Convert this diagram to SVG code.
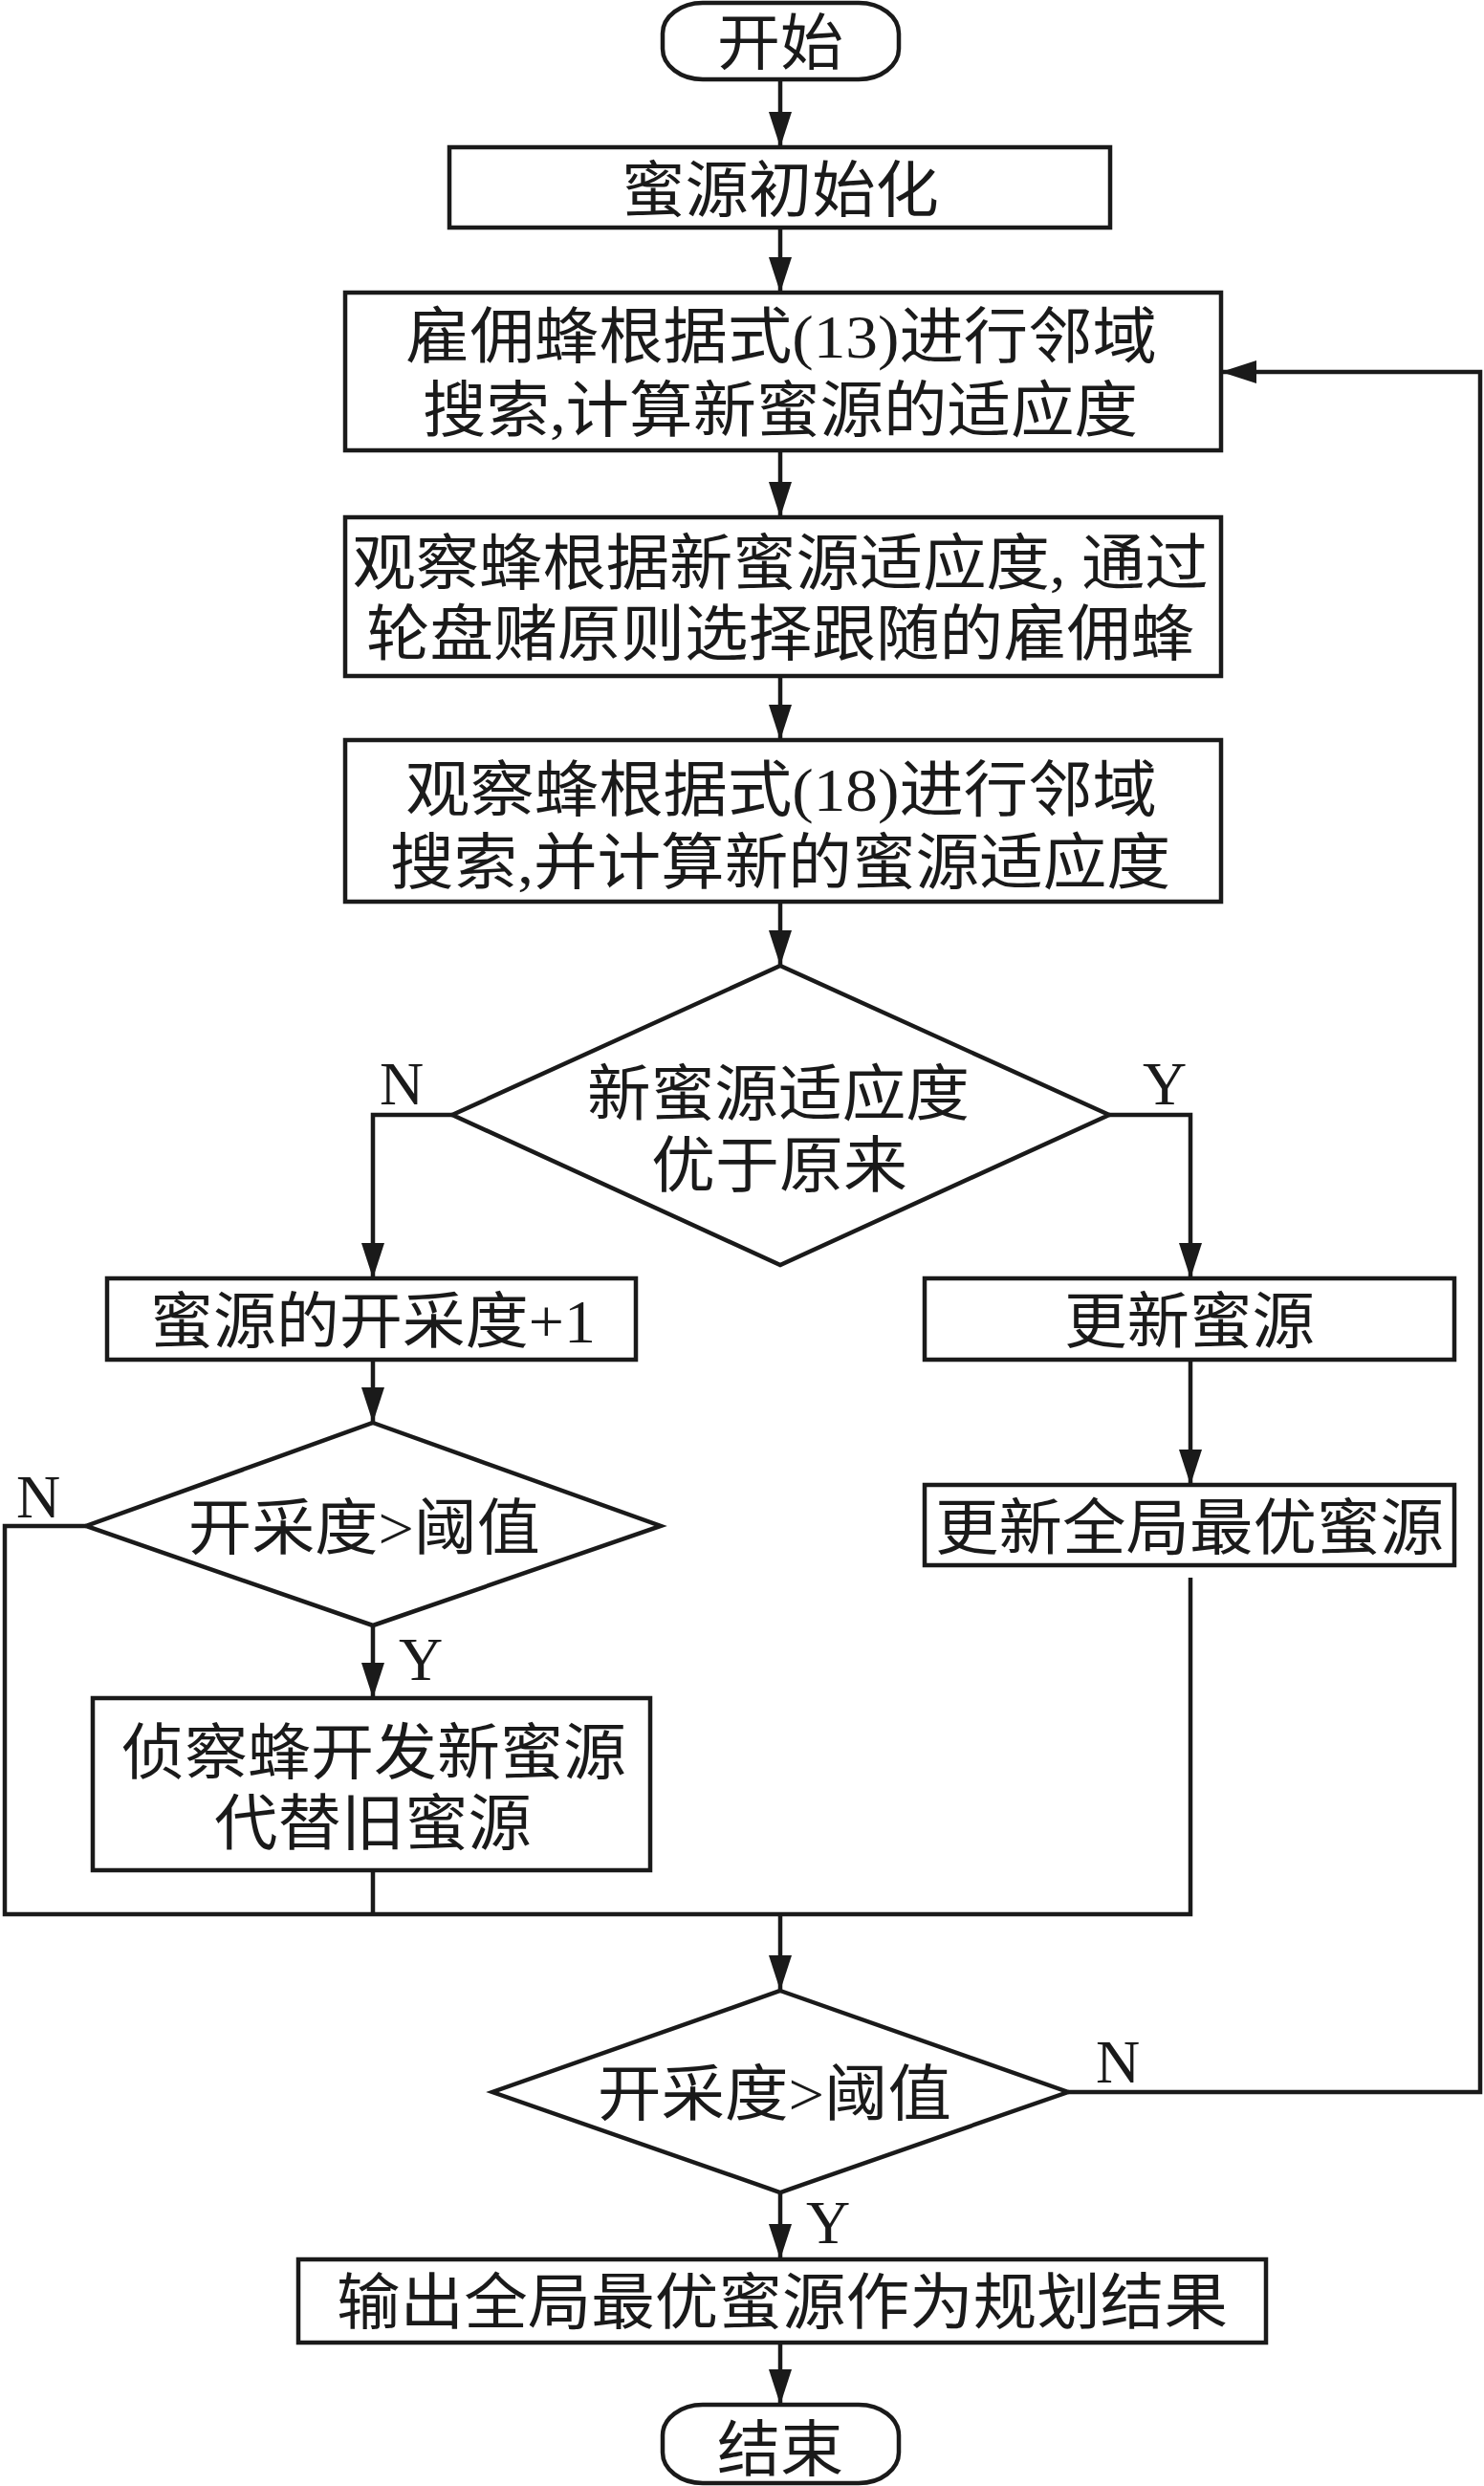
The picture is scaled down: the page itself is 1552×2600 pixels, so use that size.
<svg xmlns="http://www.w3.org/2000/svg" width="1552" height="2600" viewBox="0 0 1552 2600">
<style>
.s{fill:#fff;stroke:#1a1a1a;stroke-width:4.5}
.t{font-family:"Liberation Serif","Noto Sans CJK SC",serif;font-size:64px;fill:#1a1a1a;text-anchor:middle}
.l{font-family:"Liberation Serif",serif;font-size:64px;fill:#1a1a1a;text-anchor:middle}
.c{fill:none;stroke:#1a1a1a;stroke-width:4.5}
</style>
<defs>
<marker id="ah" markerUnits="userSpaceOnUse" markerWidth="40" markerHeight="24" refX="37" refY="12" orient="auto">
<path d="M0,0 L37,12 L0,24 z" fill="#1a1a1a"/>
</marker>
</defs>
<rect width="1552" height="2600" fill="#fff"/>
<g id="connectors">
<path class="c" d="M816,83 V154" marker-end="url(#ah)"/>
<path class="c" d="M816,238 V306" marker-end="url(#ah)"/>
<path class="c" d="M816,471 V541" marker-end="url(#ah)"/>
<path class="c" d="M816,707 V774" marker-end="url(#ah)"/>
<path class="c" d="M816,943 V1010" marker-end="url(#ah)"/>
<path class="c" d="M473,1166 H390 V1337" marker-end="url(#ah)"/>
<path class="c" d="M1160,1166 H1245 V1337" marker-end="url(#ah)"/>
<path class="c" d="M390,1422 V1488" marker-end="url(#ah)"/>
<path class="c" d="M390,1700 V1776" marker-end="url(#ah)"/>
<path class="c" d="M1245,1422 V1553" marker-end="url(#ah)"/>
<path class="c" d="M1245,1650 V2002 H5 V1596 H90"/>
<path class="c" d="M390,1956 V2002"/>
<path class="c" d="M816,2002 V2082" marker-end="url(#ah)"/>
<path class="c" d="M1117,2188 H1548 V389 H1277" marker-end="url(#ah)"/>
<path class="c" d="M816,2293 V2363" marker-end="url(#ah)"/>
<path class="c" d="M816,2450 V2515" marker-end="url(#ah)"/>
<text class="l" x="420" y="1155">N</text>
<text class="l" x="1218" y="1155">Y</text>
<text class="l" x="40" y="1587">N</text>
<text class="l" x="440" y="1757">Y</text>
<text class="l" x="1169" y="2178">N</text>
<text class="l" x="866" y="2346">Y</text>
</g>
<g id="start">
<rect class="s" x="693" y="3" width="247" height="80" rx="42" ry="32"/>
<text class="t" x="816" y="67" textLength="132" lengthAdjust="spacingAndGlyphs">开始</text>
</g>
<g id="init">
<rect class="s" x="470" y="154" width="691" height="84"/>
<text class="t" x="816" y="221" textLength="332" lengthAdjust="spacingAndGlyphs">蜜源初始化</text>
</g>
<g id="employed">
<rect class="s" x="361" y="306" width="916" height="165"/>
<text class="t" x="817" y="374" textLength="786" lengthAdjust="spacingAndGlyphs">雇佣蜂根据式(13)进行邻域</text>
<text class="t" x="816" y="451" textLength="748" lengthAdjust="spacingAndGlyphs">搜索,计算新蜜源的适应度</text>
</g>
<g id="onlooker-select">
<rect class="s" x="361" y="541" width="916" height="166"/>
<text class="t" x="816" y="611" textLength="895" lengthAdjust="spacingAndGlyphs">观察蜂根据新蜜源适应度, 通过</text>
<text class="t" x="816" y="685" textLength="866" lengthAdjust="spacingAndGlyphs">轮盘赌原则选择跟随的雇佣蜂</text>
</g>
<g id="onlooker-search">
<rect class="s" x="361" y="774" width="916" height="169"/>
<text class="t" x="817" y="848" textLength="786" lengthAdjust="spacingAndGlyphs">观察蜂根据式(18)进行邻域</text>
<text class="t" x="816" y="924" textLength="816" lengthAdjust="spacingAndGlyphs">搜索,并计算新的蜜源适应度</text>
</g>
<g id="decision1">
<polygon class="s" points="816,1010 1160,1166 816,1323 473,1166"/>
<text class="t" x="814" y="1166" textLength="400" lengthAdjust="spacingAndGlyphs">新蜜源适应度</text>
<text class="t" x="815" y="1241" textLength="268" lengthAdjust="spacingAndGlyphs">优于原来</text>
</g>
<g id="trial-inc">
<rect class="s" x="112" y="1337" width="553" height="85"/>
<text class="t" x="390" y="1404" textLength="466" lengthAdjust="spacingAndGlyphs">蜜源的开采度+1</text>
</g>
<g id="update">
<rect class="s" x="967" y="1337" width="554" height="85"/>
<text class="t" x="1244" y="1404" textLength="262" lengthAdjust="spacingAndGlyphs">更新蜜源</text>
</g>
<g id="decision2">
<polygon class="s" points="390,1488 691,1596 390,1700 90,1596"/>
<text class="t" x="381" y="1620" textLength="368" lengthAdjust="spacingAndGlyphs">开采度&gt;阈值</text>
</g>
<g id="update-best">
<rect class="s" x="967" y="1553" width="554" height="84"/>
<text class="t" x="1244" y="1620" textLength="532" lengthAdjust="spacingAndGlyphs">更新全局最优蜜源</text>
</g>
<g id="scout">
<rect class="s" x="97" y="1776" width="583" height="180"/>
<text class="t" x="391" y="1855" textLength="528" lengthAdjust="spacingAndGlyphs">侦察蜂开发新蜜源</text>
<text class="t" x="390" y="1929" textLength="332" lengthAdjust="spacingAndGlyphs">代替旧蜜源</text>
</g>
<g id="decision3">
<polygon class="s" points="816,2082 1117,2188 816,2293 515,2188"/>
<text class="t" x="810" y="2212" textLength="370" lengthAdjust="spacingAndGlyphs">开采度&gt;阈值</text>
</g>
<g id="output">
<rect class="s" x="312" y="2363" width="1012" height="87"/>
<text class="t" x="818" y="2430" textLength="932" lengthAdjust="spacingAndGlyphs">输出全局最优蜜源作为规划结果</text>
</g>
<g id="end">
<rect class="s" x="693" y="2515" width="247" height="82" rx="42" ry="32"/>
<text class="t" x="816" y="2584" textLength="132" lengthAdjust="spacingAndGlyphs">结束</text>
</g>
</svg>
